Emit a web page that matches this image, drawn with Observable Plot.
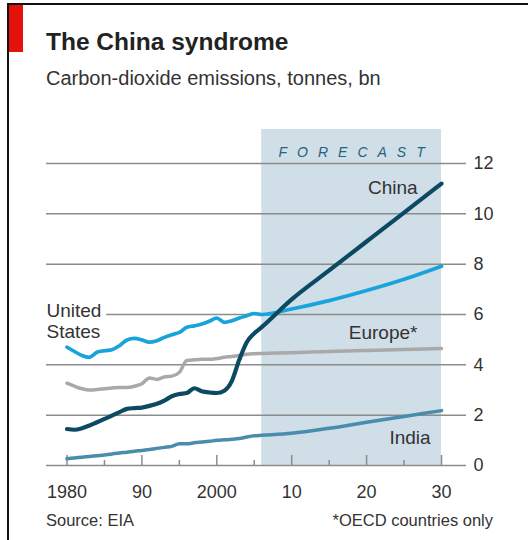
<!DOCTYPE html>
<html><head><meta charset="utf-8">
<script src="https://cdn.jsdelivr.net/npm/d3@7"></script>
<script src="https://cdn.jsdelivr.net/npm/@observablehq/plot@0.6"></script>
<style>
body{margin:0;background:#fff;}
#wrap{position:relative;width:528px;height:540px;overflow:hidden;background:#fff;font-family:"Liberation Sans",Arial,sans-serif;color:#333;}
#wrap > div{position:absolute;white-space:nowrap;}
.topline{left:7px;top:3px;width:521px;height:2px;background:#111;}
.leftline{left:7px;top:3px;width:2px;height:537px;background:#111;}
.red{left:9px;top:5px;width:14px;height:47px;background:#e3120b;}
#title{left:46px;top:30px;font-size:24.5px;line-height:24.5px;font-weight:bold;color:#222;}
#subtitle{left:46px;top:68px;font-size:20px;line-height:20px;color:#333;}
#chart{left:0;top:100px;width:528px;height:410px;}
#source{left:46px;top:512px;font-size:16.5px;line-height:16.5px;color:#333;}
#note{right:35px;top:512px;font-size:16.5px;line-height:16.5px;color:#333;}
</style></head><body>
<div id="wrap">
  <div class="topline"></div><div class="leftline"></div><div class="red"></div>
  <div id="title">The China syndrome</div>
  <div id="subtitle">Carbon-dioxide emissions, tonnes, bn</div>
  <div id="chart"></div>
  <div id="source">Source: EIA</div>
  <div id="note">*OECD countries only</div>
</div>
<script>
const years = [1980,1981,1982,1983,1984,1985,1986,1987,1988,1989,1990,1991,1992,1993,1994,1995,1996,1997,1998,1999,2000,2001,2002,2003,2004,2005,2006,2010,2015,2020,2025,2030];
const usValues = [4.70,4.53,4.37,4.30,4.50,4.56,4.60,4.76,4.99,5.05,4.99,4.90,4.96,5.09,5.20,5.29,5.49,5.55,5.62,5.73,5.86,5.69,5.75,5.86,5.95,6.04,6.00,6.22,6.55,6.95,7.40,7.92];
const chinaValues = [1.45,1.42,1.48,1.59,1.72,1.85,1.98,2.12,2.25,2.28,2.30,2.37,2.45,2.58,2.75,2.84,2.88,3.07,2.95,2.90,2.88,2.97,3.35,4.20,4.90,5.25,5.50,6.60,7.75,8.90,10.05,11.20];
const europeValues = [3.27,3.15,3.05,3.00,3.02,3.05,3.08,3.10,3.10,3.15,3.25,3.48,3.42,3.52,3.55,3.70,4.17,4.20,4.22,4.22,4.25,4.30,4.33,4.37,4.42,4.44,4.45,4.48,4.53,4.57,4.61,4.65];
const indiaValues = [0.27,0.30,0.33,0.36,0.39,0.42,0.46,0.50,0.53,0.57,0.60,0.64,0.68,0.72,0.76,0.86,0.86,0.90,0.93,0.96,1.00,1.02,1.04,1.07,1.13,1.18,1.20,1.28,1.48,1.72,1.95,2.18];
const forecastRange = [2006, 2030];
const yTicks = [0,2,4,6,8,10,12];
const xMajorTicks = [1980,1990,2000,2010,2020,2030];
const xMinorTicks = [1985,1995,2005,2015,2025];
const xTickLabels = ["1980","90","2000","10","20","30"];
const seriesLabels = [
  {name:"China", x:2023.5, y:11.05},
  {name:"Europe*", x:2022.2, y:5.28},
  {name:"India", x:2025.8, y:1.11}
];
const usLabel = {name:"United\nStates", x:1977.26, y:5.74};

const toRows = vals => years.map((yr,i)=>({year:yr, value:vals[i]}));
const grid = "#8c8c8c";

const plot = Plot.plot({
  width:528, height:410,
  marginLeft:66.5, marginRight:87, marginTop:63, marginBottom:45,
  x:{domain:[1980,2030], axis:null},
  y:{domain:[0,12], axis:null},
  style:{fontFamily:'"Liberation Sans", Arial, sans-serif', fontSize:"18px", color:"#333", background:"transparent", overflow:"visible"},
  marks:[
    Plot.rect([forecastRange], {x1:d=>d[0], x2:d=>d[1], y1:0, y2:12, insetTop:-34, fill:"#cfdee7"}),
    Plot.text(["FORECAST"], {x:(forecastRange[0]+forecastRange[1])/2, frameAnchor:"top", dy:-16, dx:5, text:d=>d, fontStyle:"italic", fontSize:14, fill:"#25637f"}),
    Plot.ruleY(yTicks, {y:d=>d, stroke:grid, strokeWidth:1.5, insetLeft:-20.5, insetRight:-25}),
    Plot.ruleX(xMajorTicks, {x:d=>d, y1:0, y2:0, insetBottom:10, stroke:grid, strokeWidth:1.5}),
    Plot.ruleX(xMinorTicks, {x:d=>d, y1:0, y2:0, insetBottom:5, stroke:grid, strokeWidth:1.5}),
    Plot.axisY({anchor:"right", ticks:yTicks, tickSize:0, tickPadding:32, fontSize:18, color:"#333"}),
    Plot.text(xMajorTicks, {x:d=>d, y:0, dy:26.5, text:(d,i)=>xTickLabels[i], fontSize:18, fill:"#333"}),
    Plot.text([usLabel], {x:"x", y:"y", text:"name", textAnchor:"start", lineHeight:1.1, fontSize:19, fill:"#333", stroke:"white", strokeWidth:12, paintOrder:"stroke"}),
    Plot.text(seriesLabels, {x:"x", y:"y", text:"name", fontSize:19, fill:"#333"}),
    Plot.line(toRows(indiaValues), {x:"year", y:"value", stroke:"#4a8cab", strokeWidth:3.5, curve:"monotone-x"}),
    Plot.line(toRows(europeValues), {x:"year", y:"value", stroke:"#a9a9a9", strokeWidth:3.5, curve:"monotone-x"}),
    Plot.line(toRows(usValues), {x:"year", y:"value", stroke:"#19a3db", strokeWidth:3.7, curve:"monotone-x"}),
    Plot.line(toRows(chinaValues), {x:"year", y:"value", stroke:"#0b4a62", strokeWidth:4.2, curve:"monotone-x"})
  ]
});
d3.select(plot).selectAll("text").filter(function(){ return this.textContent === "FORECAST"; }).style("letter-spacing", "10px");
document.getElementById("chart").appendChild(plot);
</script>
</body></html>
